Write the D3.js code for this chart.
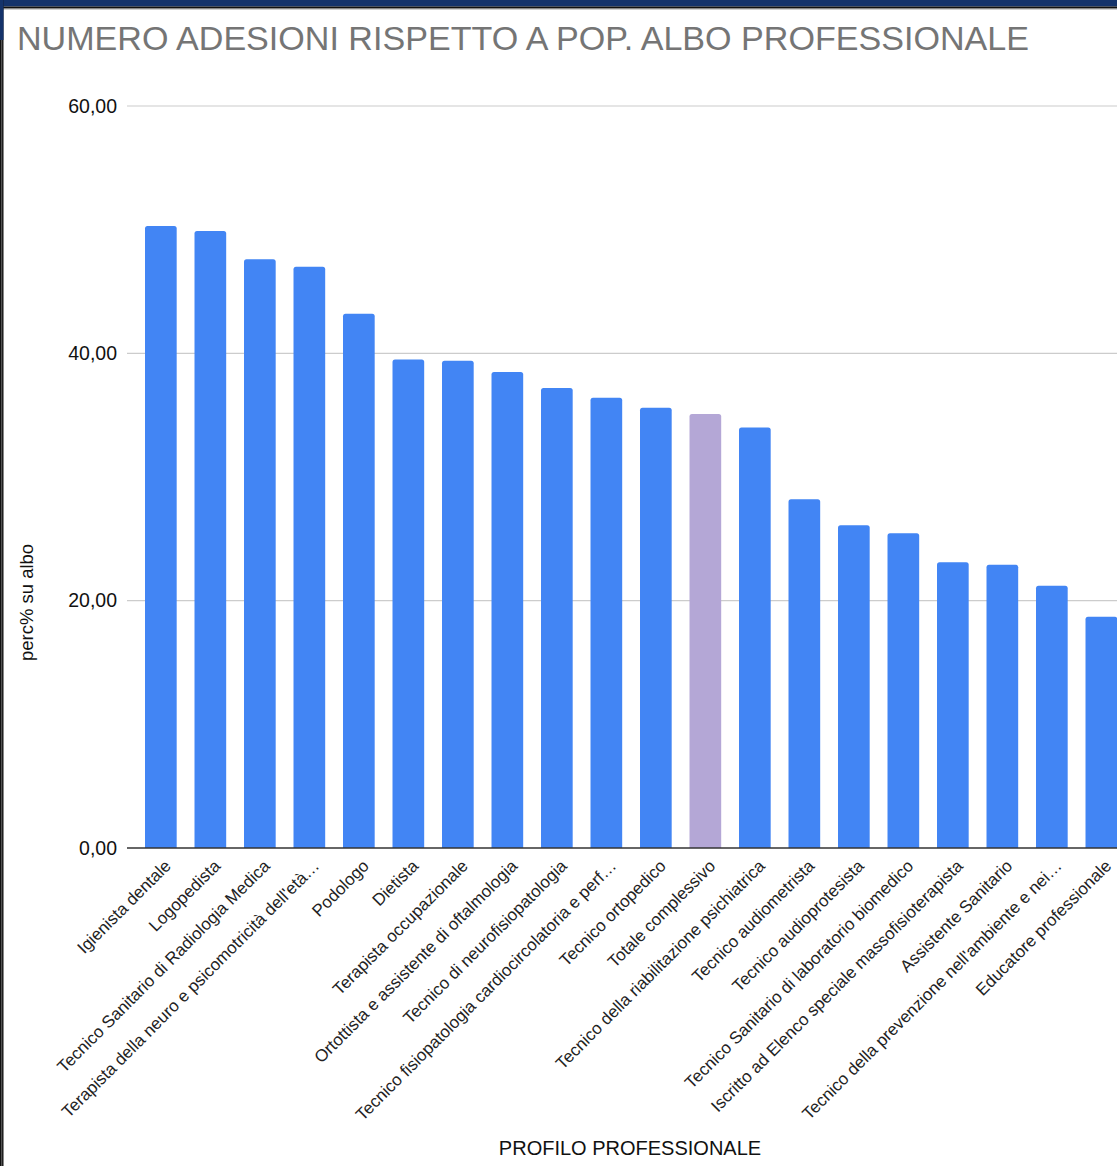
<!DOCTYPE html>
<html>
<head>
<meta charset="utf-8">
<script src="https://cdn.jsdelivr.net/npm/d3@7"></script>
<style>
  html, body { margin: 0; padding: 0; background: #ffffff; }
  svg { display: block; font-family: "Liberation Sans", Arial, sans-serif; }
</style>
</head>
<body>
<svg id="chart" width="1117" height="1166"></svg>
<script>
const categories = [
  "Igienista dentale",
  "Logopedista",
  "Tecnico Sanitario di Radiologia Medica",
  "Terapista della neuro e psicomotricità dell'età…",
  "Podologo",
  "Dietista",
  "Terapista occupazionale",
  "Ortottista e assistente di oftalmologia",
  "Tecnico di neurofisiopatologia",
  "Tecnico fisiopatologia cardiocircolatoria e perf…",
  "Tecnico ortopedico",
  "Totale complessivo",
  "Tecnico della riabilitazione psichiatrica",
  "Tecnico audiometrista",
  "Tecnico audioprotesista",
  "Tecnico Sanitario di laboratorio biomedico",
  "Iscritto ad Elenco speciale massofisioterapista",
  "Assistente Sanitario",
  "Tecnico della prevenzione nell'ambiente e nei…",
  "Educatore professionale"
];
const values = [50.3, 49.9, 47.6, 47.0, 43.2, 39.5, 39.4, 38.5, 37.2, 36.4,
                35.6, 35.1, 34.0, 28.2, 26.1, 25.45, 23.1, 22.9, 21.2, 18.7];
const highlighted = ["Totale complessivo"];
const yTicks = [0, 20, 40, 60];
const title = "NUMERO ADESIONI RISPETTO A POP. ALBO PROFESSIONALE";
const yTitle = "perc% su albo";
const xTitle = "PROFILO PROFESSIONALE";

const W = 1117, H = 1166;
const svg = d3.select("#chart");

const locale = d3.formatLocale({decimal: ",", thousands: ".", grouping: [3], currency: ["", "€"]});
const fmt = locale.format(".2f");

const y = d3.scaleLinear().domain([0, 60]).range([848, 106]);
const x = d3.scaleBand().domain(categories).range([136.1, 1126.1])
  .paddingInner(0.36).paddingOuter(0.18);

// background
svg.append("rect").attr("width", W).attr("height", H).attr("fill", "#ffffff");

// gridlines
svg.append("g").selectAll("line").data(yTicks.filter(d => d !== 0)).join("line")
  .attr("x1", 127).attr("x2", W)
  .attr("y1", d => y(d)).attr("y2", d => y(d))
  .attr("stroke", "#cccccc").attr("stroke-width", 1.2);

// y axis labels
const yAxis = d3.axisLeft(y).tickValues(yTicks).tickFormat(fmt).tickSize(0).tickPadding(0);
const ya = svg.append("g").attr("transform", "translate(117,0)").call(yAxis);
ya.select(".domain").remove();
ya.selectAll("text").attr("font-size", 19.5).attr("fill", "#111").attr("font-family", "Liberation Sans, Arial, sans-serif");

// bars
svg.append("g").selectAll("path").data(categories).join("path")
  .attr("d", (c, i) => {
    const x0 = x(c), w = x.bandwidth(), y0 = y(values[i]), yb = y(0), r = 2.5;
    return `M${x0},${yb} L${x0},${y0 + r} Q${x0},${y0} ${x0 + r},${y0} L${x0 + w - r},${y0} Q${x0 + w},${y0} ${x0 + w},${y0 + r} L${x0 + w},${yb} Z`;
  })
  .attr("fill", c => highlighted.includes(c) ? "#b4a7d6" : "#4285f4");

// baseline
svg.append("line").attr("x1", 127).attr("x2", W).attr("y1", y(0)).attr("y2", y(0))
  .attr("stroke", "#333333").attr("stroke-width", 1.3);

// x axis labels
const xa = d3.axisBottom(x).tickSize(0).tickPadding(0);
const xg = svg.append("g").call(xa);
xg.select(".domain").remove();
xg.selectAll(".tick").attr("transform", d => `translate(${x(d) + x.bandwidth() / 2 + 11},867)`);
xg.selectAll("text")
  .attr("x", 0).attr("y", 0).attr("dy", 0)
  .attr("transform", "rotate(-45)")
  .attr("text-anchor", "end")
  .attr("font-size", 17).attr("fill", "#222")
  .attr("font-family", "Liberation Sans, Arial, sans-serif");

// titles
svg.append("text").attr("x", 17).attr("y", 50).text(title)
  .attr("font-size", 34.1).attr("fill", "#757575");
svg.append("text").attr("transform", "translate(33,602.5) rotate(-90)")
  .attr("text-anchor", "middle").attr("font-size", 18.5).attr("fill", "#111").text(yTitle);
svg.append("text").attr("x", 630).attr("y", 1155).attr("text-anchor", "middle")
  .attr("font-size", 20).attr("fill", "#111").text(xTitle);

// screenshot frame: top navy strip and left border
svg.append("rect").attr("x", 0).attr("y", 0).attr("width", W).attr("height", 6.5).attr("fill", "#14336b");
svg.append("rect").attr("x", 0).attr("y", 6.5).attr("width", W).attr("height", 2).attr("fill", "#111");
svg.append("line").attr("x1", 0).attr("x2", W).attr("y1", 9.5).attr("y2", 9.5).attr("stroke", "#cfcfcf").attr("stroke-width", 1);
svg.append("rect").attr("x", 0).attr("y", 0).attr("width", 3.5).attr("height", H).attr("fill", "#111");
svg.append("line").attr("x1", 1.7).attr("x2", 1.7).attr("y1", 9).attr("y2", H).attr("stroke", "#777").attr("stroke-width", 0.8);
svg.append("rect").attr("x", 0).attr("y", 0).attr("width", 3.5).attr("height", 40).attr("fill", "#14336b");
</script>
</body>
</html>
